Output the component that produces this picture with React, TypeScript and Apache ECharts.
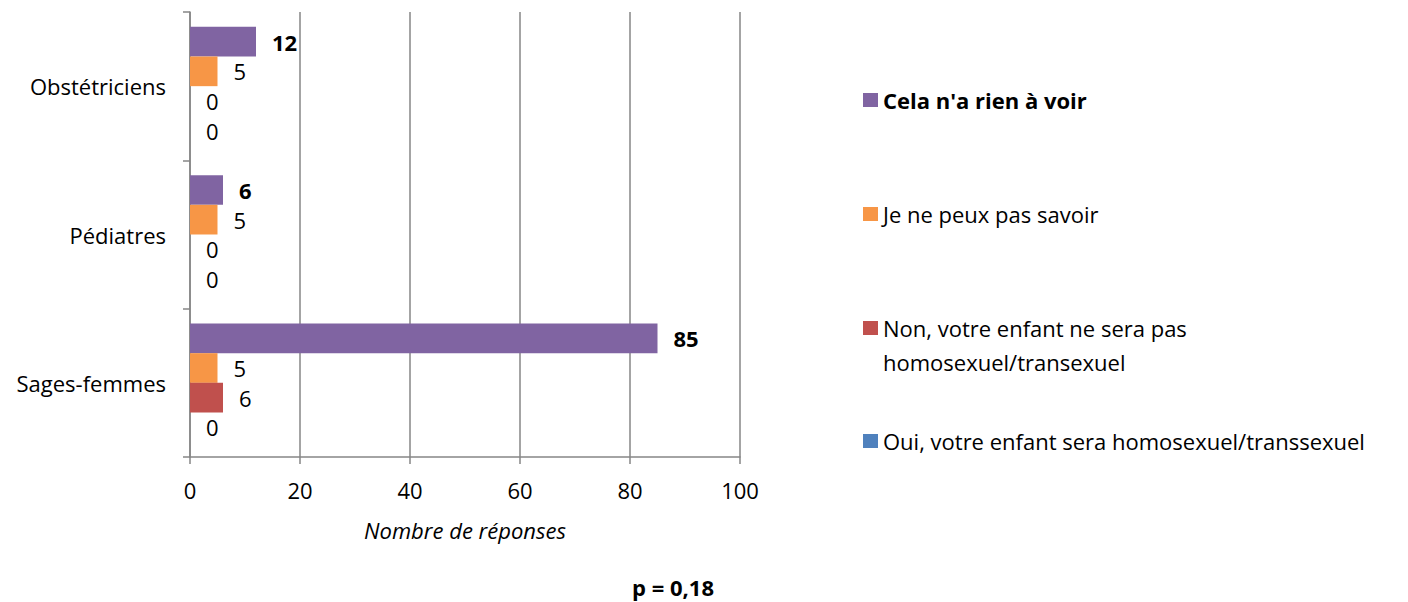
import React, { useEffect, useRef } from "react";
import * as echarts from "echarts";

const categories = ["Sages-femmes", "Pédiatres", "Obstétriciens"];
const seriesNames = [
  "Cela n'a rien à voir",
  "Je ne peux pas savoir",
  "Non, votre enfant ne sera pas homosexuel/transexuel",
  "Oui, votre enfant sera homosexuel/transsexuel",
];
const celaValues = [85, 6, 12];
const jeNeSaisValues = [5, 5, 5];
const nonValues = [6, 0, 0];
const ouiValues = [0, 0, 0];
const xTicks = [0, 20, 40, 60, 80, 100];
const pValueText = "p = 0,18";
const xAxisTitle = "Nombre de réponses";

const COLORS = ["#8064A2", "#F79646", "#C0504D", "#4F81BD"];
const FONT = "'Open Sans', Lato, sans-serif";
const FS = 22;

export default function App() {
  const ref = useRef<HTMLDivElement>(null);
  useEffect(() => {
    if (!ref.current) return;
    const chart = echarts.init(ref.current, null, { renderer: "svg" });
    const values = [celaValues, jeNeSaisValues, nonValues, ouiValues];
    const series = values.map((v, i) => ({
      name: seriesNames[i],
      type: "bar",
      data: v,
      barGap: "0%",
      barCategoryGap: "20%",
      itemStyle: { color: COLORS[i] },
      label: {
        show: true,
        position: "right",
        distance: 16,
        color: "#000",
        fontFamily: FONT,
        fontSize: FS,
        fontWeight: i === 0 ? "bold" : "normal",
      },
    }));
    const legendTops = [83, 197, 272, 424];
    const legends = seriesNames.map((n, i) => {
      const multi = i === 2;
      return {
        show: true,
        orient: "vertical",
        left: 858,
        top: legendTops[i],
        icon: "rect",
        itemWidth: 15,
        itemHeight: 14,
        data: [{ name: n, itemStyle: { color: COLORS[i] } }],
        selectedMode: false,
        formatter: multi
          ? () => " \nNon, votre enfant ne sera pas\nhomosexuel/transexuel"
          : undefined,
        textStyle: {
          color: "#000",
          fontFamily: FONT,
          fontSize: FS,
          fontWeight: i === 0 ? "bold" : "normal",
          lineHeight: multi ? 34 : 24,
        },
      };
    });
    chart.setOption({
      animation: false,
      grid: { left: 190, top: 12, width: 550, height: 445, containLabel: false },
      legend: legends,
      xAxis: {
        type: "value",
        min: xTicks[0],
        max: xTicks[xTicks.length - 1],
        interval: 20,
        name: xAxisTitle,
        nameLocation: "middle",
        nameGap: 62,
        nameTextStyle: {
          fontFamily: FONT,
          fontSize: FS,
          fontStyle: "italic",
          color: "#000",
          verticalAlign: "top",
        },
        axisLine: { show: true, lineStyle: { color: "#868686", width: 1.5 } },
        axisTick: { show: true, length: 7, lineStyle: { color: "#868686", width: 1.5 } },
        axisLabel: { margin: 22, fontFamily: FONT, fontSize: FS, color: "#000" },
        splitLine: { show: true, lineStyle: { color: "#868686", width: 1.5 } },
      },
      yAxis: {
        type: "category",
        data: categories,
        axisLine: { show: true, lineStyle: { color: "#868686", width: 1.5 } },
        axisTick: { show: true, length: 7, lineStyle: { color: "#868686", width: 1.5 } },
        axisLabel: { margin: 24, fontFamily: FONT, fontSize: FS, color: "#000" },
      },
      graphic: [
        {
          type: "text",
          x: 673,
          y: 587,
          style: {
            text: pValueText,
            fontFamily: FONT,
            fontSize: FS,
            fontWeight: "bold",
            fill: "#000",
            align: "center",
            verticalAlign: "middle",
          },
        },
      ],
      series,
    });
    return () => chart.dispose();
  }, []);
  return (
    <div
      ref={ref}
      style={{ position: "fixed", left: 0, top: 0, width: 1408, height: 602, background: "#fff" }}
    />
  );
}
